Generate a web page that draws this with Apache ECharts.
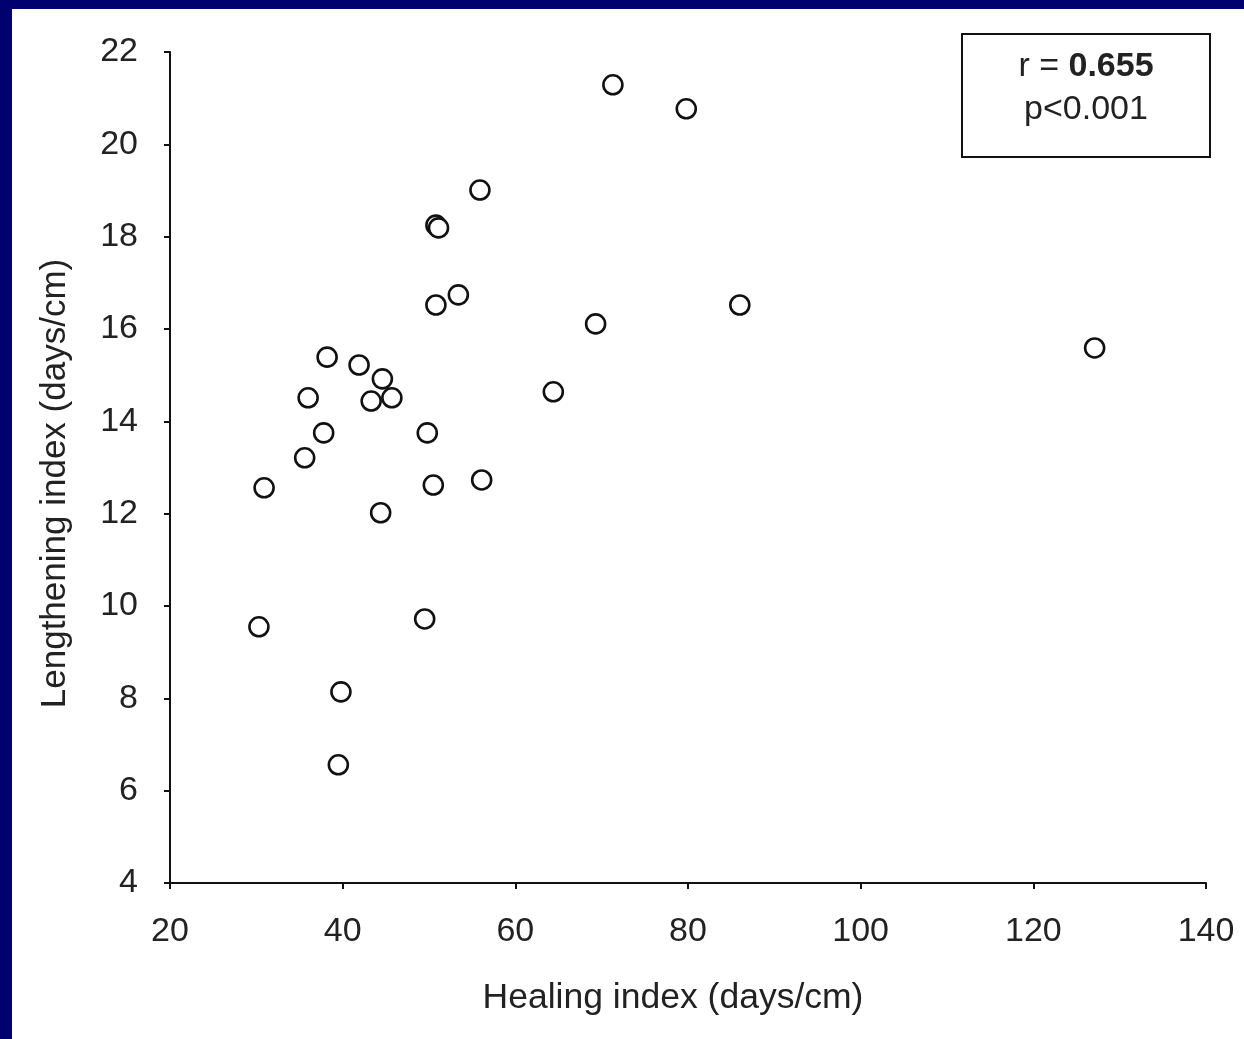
<!DOCTYPE html>
<html>
<head>
<meta charset="utf-8">
<script src="https://cdn.jsdelivr.net/npm/echarts@6/dist/echarts.min.js"></script>
<style>
html,body{margin:0;padding:0;background:#fff;}
#chart{width:1244px;height:1039px;}
</style>
</head>
<body>
<div id="chart"></div>
<script>
// Data
const healingIndex = [71.3, 79.8, 55.9, 50.8, 51.1, 53.4, 50.8, 86.0, 69.3, 127.1, 38.2, 41.9, 44.6, 36.0, 43.3, 45.7, 64.4, 37.8, 49.8, 35.6, 30.9, 50.5, 56.1, 44.4, 30.3, 49.5, 39.8, 39.5];
const lengtheningIndex = [21.29, 20.77, 19.01, 18.25, 18.19, 16.74, 16.52, 16.52, 16.11, 15.59, 15.39, 15.22, 14.92, 14.51, 14.44, 14.51, 14.64, 13.75, 13.75, 13.21, 12.56, 12.62, 12.73, 12.02, 9.55, 9.72, 8.14, 6.56];
const xTicks = [20, 40, 60, 80, 100, 120, 140];
const yTicks = [4, 6, 8, 10, 12, 14, 16, 18, 20, 22];
const xTitle = 'Healing index (days/cm)';
const yTitle = 'Lengthening index (days/cm)';
const statR = '0.655';
const statP = 'p<0.001';

const points = healingIndex.map((x, i) => [x, lengtheningIndex[i]]);
const font = '"Liberation Sans", Arial, sans-serif';
const txt = '#222';

const chart = echarts.init(document.getElementById('chart'), null, {renderer: 'canvas'});
chart.setOption({
  backgroundColor: '#fff',
  animation: false,
  grid: {left: 170, right: 38, top: 52, bottom: 156},
  xAxis: {
    type: 'value',
    min: xTicks[0], max: xTicks[xTicks.length - 1], interval: 20,
    name: xTitle, nameLocation: 'middle', nameGap: 97,
    nameTextStyle: {fontFamily: font, fontSize: 35.5, color: txt, padding: [0, 30, 0, 0]},
    axisLine: {show: true, onZero: false, lineStyle: {color: '#111', width: 2}},
    axisTick: {show: true, length: 6, lineStyle: {color: '#111', width: 2}},
    axisLabel: {fontFamily: font, fontSize: 34, color: txt, margin: 32},
    splitLine: {show: false}
  },
  yAxis: {
    type: 'value',
    min: yTicks[0], max: yTicks[yTicks.length - 1], interval: 2,
    name: yTitle, nameLocation: 'middle', nameGap: 97,
    nameTextStyle: {fontFamily: font, fontSize: 35, color: txt, padding: [0, 32, 0, 0]},
    axisLine: {show: true, onZero: false, lineStyle: {color: '#111', width: 2}},
    axisTick: {show: true, length: 6, lineStyle: {color: '#111', width: 2}},
    axisLabel: {fontFamily: font, fontSize: 34, color: txt, margin: 32},
    splitLine: {show: false}
  },
  series: [{
    type: 'scatter',
    data: points,
    symbol: 'circle',
    symbolSize: 19,
    itemStyle: {color: '#fff', borderColor: '#111', borderWidth: 2.6, opacity: 1}
  }],
  graphic: [
    {type: 'rect', left: 0, top: 0, shape: {width: 1244, height: 9}, style: {fill: '#00006e'}, z: 100},
    {type: 'rect', left: 0, top: 0, shape: {width: 12, height: 1039}, style: {fill: '#00006e'}, z: 100},
    {type: 'rect', x: 962, y: 34, shape: {width: 248, height: 123}, style: {fill: '#fff', stroke: '#111', lineWidth: 2}, z: 50},
    {type: 'text', z: 51, x: 1086, y: 67,
      style: {text: '{a|r = }{b|' + statR + '}', align: 'center', verticalAlign: 'middle',
        rich: {a: {fontFamily: font, fontSize: 34, fill: txt}, b: {fontFamily: font, fontSize: 34, fontWeight: 'bold', fill: txt}}}},
    {type: 'text', z: 51, x: 1086, y: 110,
      style: {text: statP, align: 'center', verticalAlign: 'middle', fontFamily: font, fontSize: 34, fill: txt}}
  ]
});
</script>
</body>
</html>
